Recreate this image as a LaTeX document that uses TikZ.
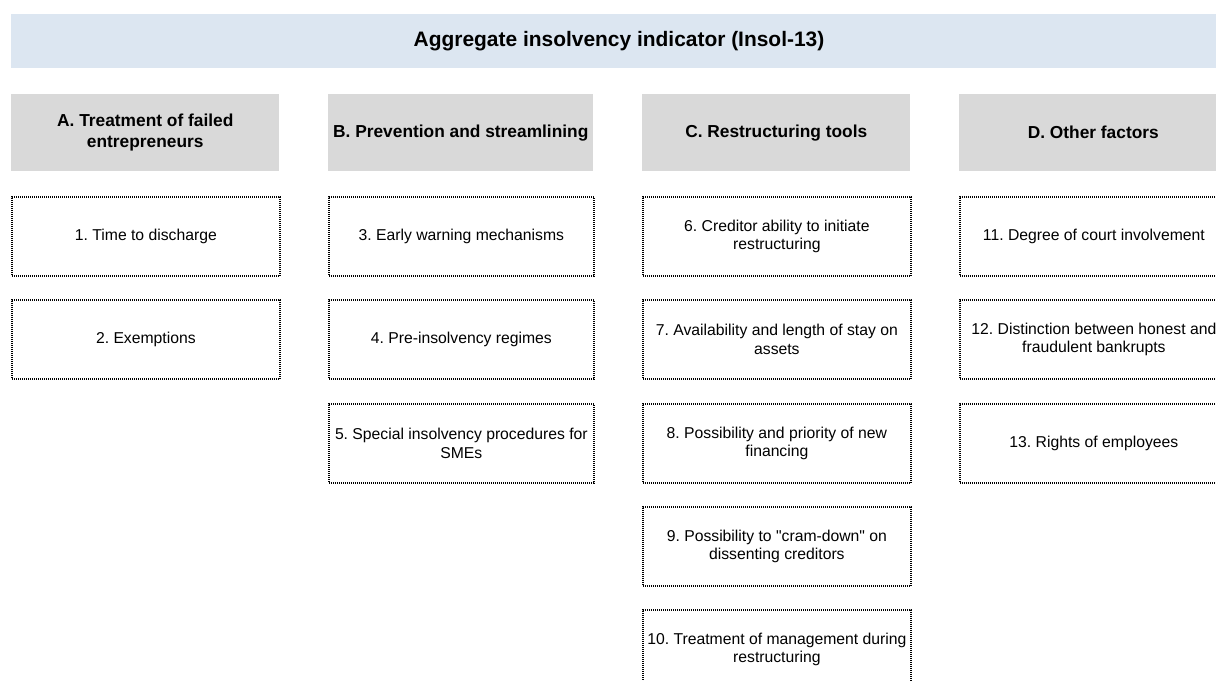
\documentclass[tikz,border=0pt]{standalone}
\usepackage{fontspec}
\setmainfont{Liberation Sans}
\newfontfamily\rawfont{Liberation Sans}
\frenchspacing
\definecolor{titlebg}{HTML}{DCE6F1}
\definecolor{headbg}{HTML}{D9D9D9}
\begin{document}
\begin{tikzpicture}[x=0.75pt,y=-0.75pt,
  headbox/.style={fill=headbg, draw=none, minimum width=268*0.75pt, minimum height=77*0.75pt, inner sep=0pt, align=center, font=\bfseries\fontsize{13}{15.8}\selectfont, anchor=north west},
  itembox/.style={draw=black, line width=1.3pt, dash pattern=on 0.75pt off 0.75pt, minimum width=268*0.75pt, minimum height=79*0.75pt, inner sep=0pt, align=center, font=\fontsize{11.8}{14}\selectfont, anchor=north west}]
\useasboundingbox (0,0) rectangle (1216,681);
\clip (0,0) rectangle (1216,681);
% title
\fill[titlebg] (11,14) rectangle (1230,68);
\node[font=\bfseries\fontsize{15.7}{18}\selectfont] (title) at (619,41) {Aggregate insolvency indicator (Insol-13)};
% headers
\node[headbox] (hA) at (11,94) {A. Treatment of failed\\entrepreneurs};
\node[headbox, minimum width=265*0.75pt] (hB) at (328,94) {B. Prevention and streamlining};
\node[headbox] (hC) at (642,94) {C. Restructuring tools};
\node[headbox] (hD) at (959,94) {D. Other factors};
% column A
\node[itembox] (i1) at (11,196) {1. Time to discharge};
\node[itembox] (i2) at (11,299) {2. Exemptions};
% column B
\node[itembox, minimum width=265*0.75pt] (i3) at (328,196) {3. Early warning mechanisms};
\node[itembox, minimum width=265*0.75pt] (i4) at (328,299) {4. Pre-insolvency regimes};
\node[itembox, minimum width=265*0.75pt] (i5) at (328,403) {5. Special insolvency procedures for\\SMEs};
% column C
\node[itembox] (i6) at (642,196) {6. Creditor ability to initiate\\restructuring};
\node[itembox] (i7) at (642,299) {7. Availability and length of stay on\\assets};
\node[itembox] (i8) at (642,403) {8. Possibility and priority of new\\financing};
\node[itembox] (i9) at (642,506) {9. Possibility to {\rawfont"}cram-down{\rawfont"} on\\dissenting creditors};
\node[itembox] (i10) at (642,609) {10. Treatment of management during\\restructuring};
% column D
\node[itembox] (i11) at (959,196) {11. Degree of court involvement};
\node[itembox] (i12) at (959,299) {12. Distinction between honest and\\fraudulent bankrupts};
\node[itembox] (i13) at (959,403) {13. Rights of employees};
\end{tikzpicture}
\end{document}
